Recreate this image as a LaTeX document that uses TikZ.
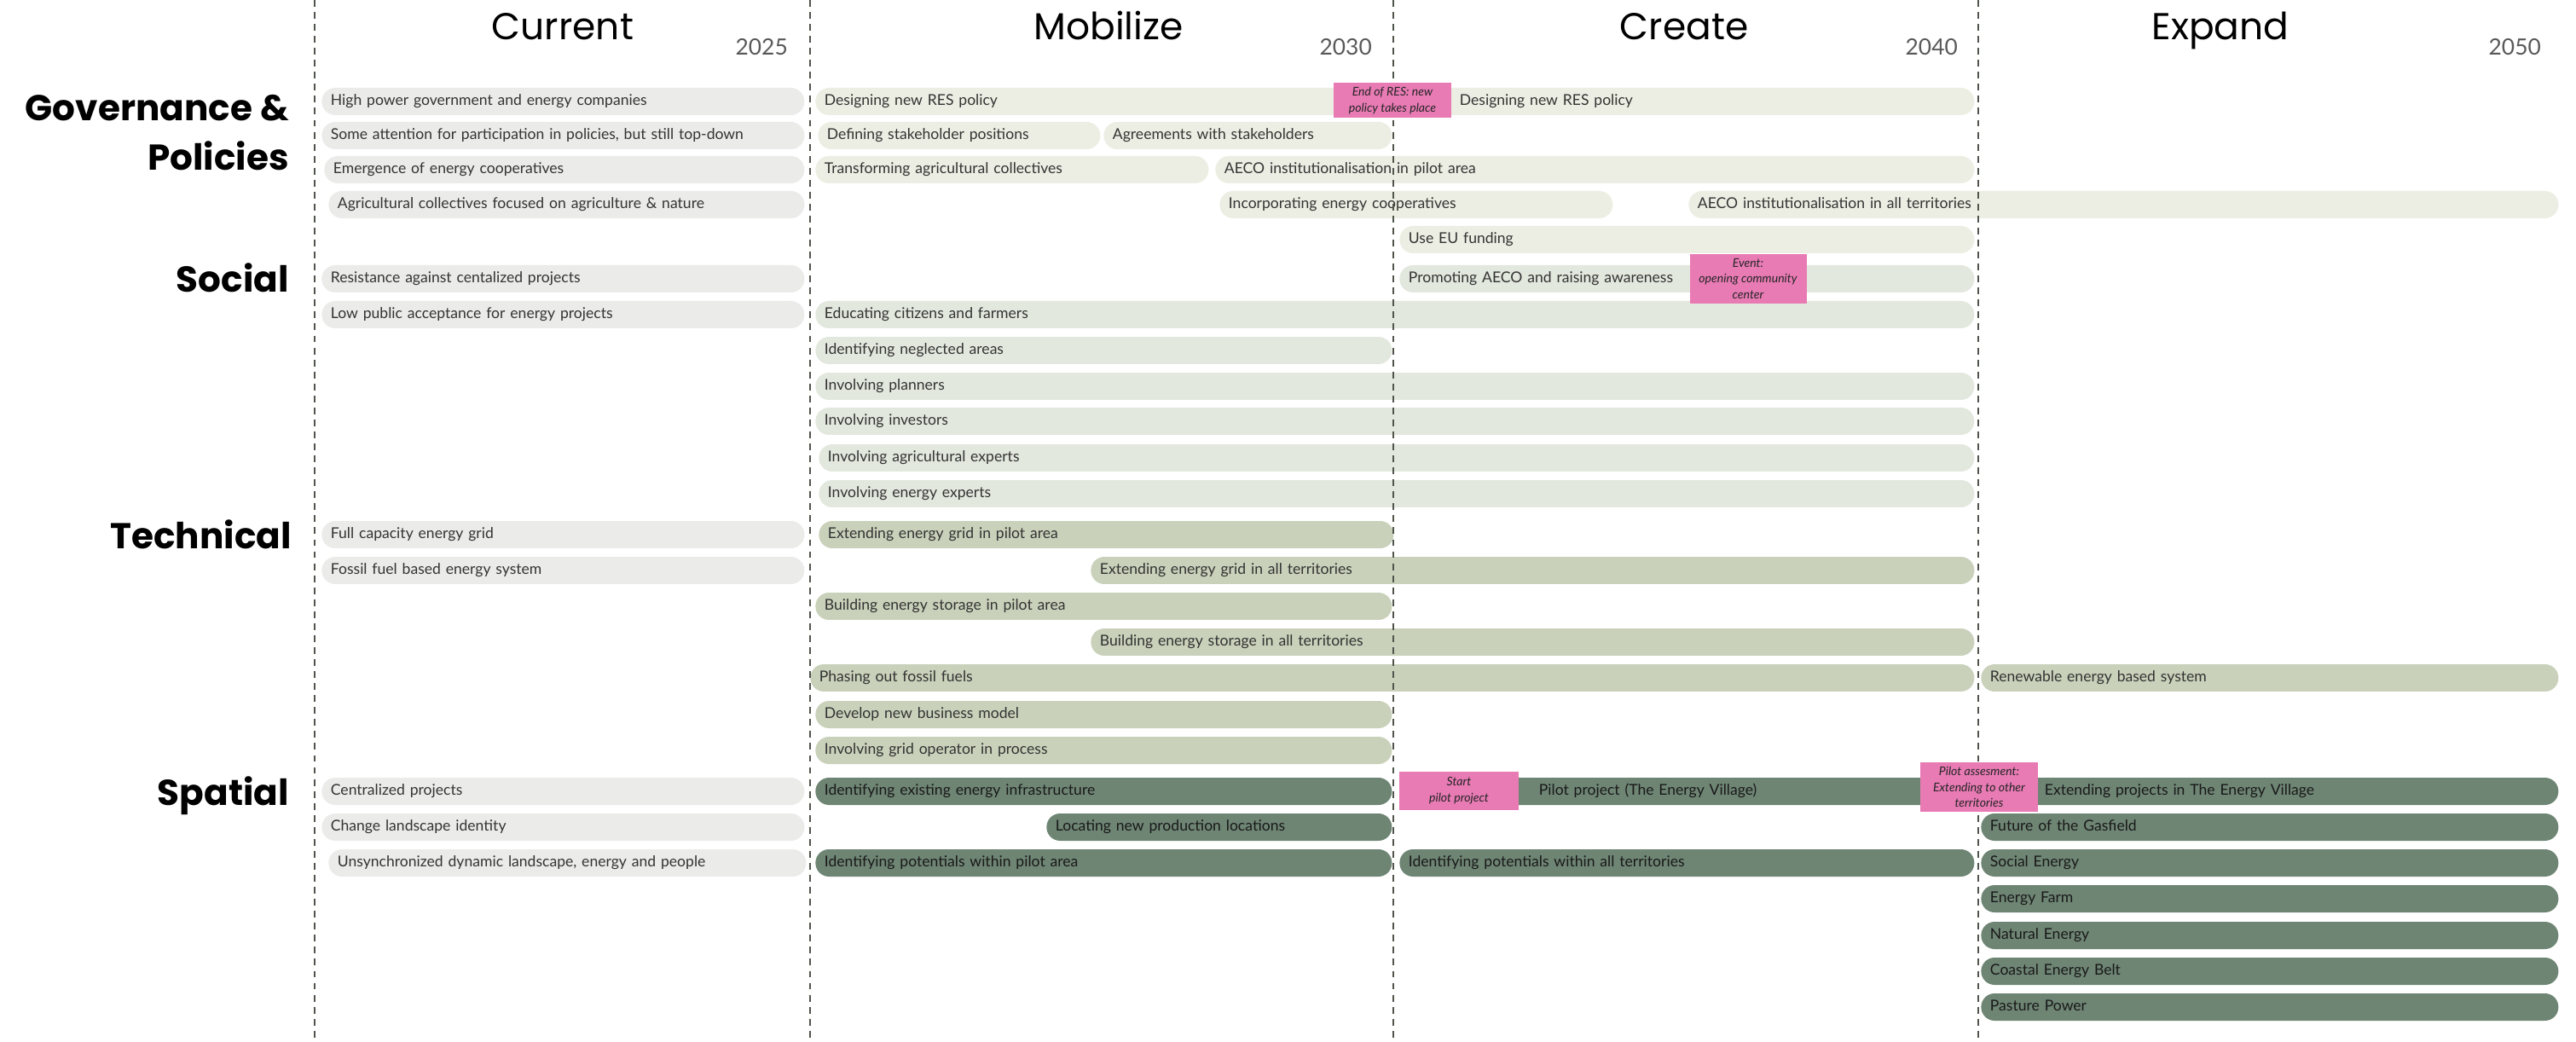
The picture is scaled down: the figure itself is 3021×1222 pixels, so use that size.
\documentclass[tikz,border=0pt]{standalone}
\usepackage{fontspec}
\setmainfont{Lato}
\newfontfamily\headfont{Poppins}

\definecolor{curgray}{HTML}{EBECEA}
\definecolor{govbeige}{HTML}{EDEEE3}
\definecolor{socsage}{HTML}{E3E8DE}
\definecolor{techsage}{HTML}{C9D1BA}
\definecolor{spatgreen}{HTML}{6E8574}
\definecolor{eventpink}{HTML}{E87AB4}
\definecolor{divgray}{HTML}{50554C}

\begin{document}
\begin{tikzpicture}[
  x=0.02cm, y=-0.02cm,
  bar/.style={rounded corners=9pt, inner xsep=6pt, inner ysep=0pt, minimum height=0.64cm, anchor=west, align=left, text height=7.5pt, text depth=2.2pt, text=black!80, font=\fontsize{10}{12}\selectfont},
  barw/.style={text width=#1*0.02cm-12pt},
  skipin/.style={execute at begin node={\hspace*{#1}}},
  cur/.style={bar, fill=curgray},
  gov/.style={bar, fill=govbeige},
  soc/.style={bar, fill=socsage},
  tech/.style={bar, fill=techsage},
  spat/.style={bar, fill=spatgreen, text=black!90},
  event/.style={fill=eventpink, inner sep=1pt, align=center, text=black!85, font=\itshape\fontsize{8}{10.5}\selectfont},
  phase/.style={anchor=base, font=\headfont\fontsize{25}{30}\selectfont},
  year/.style={anchor=base east, text=black!65, font=\fontsize{15}{18}\selectfont},
  cat/.style={anchor=base east, font=\headfont\bfseries\fontsize{24}{30}\selectfont},
  divider/.style={draw=divgray, line width=1.6pt, dash pattern=on 4.5pt off 3.5pt}
]
\useasboundingbox[fill=white] (0,0) rectangle (3021,1222);

%% ---------- phase headers ----------
\node[phase] (current)  at (660,47)  {Current};
\node[phase] (mobilize) at (1300,47) {Mobilize};
\node[phase] (create)   at (1975,47) {Create};
\node[phase] (expand)   at (2604,47) {Expand};

\node[year] (y2025) at (930,65)  {2025};
\node[year] (y2030) at (1615,65) {2030};
\node[year] (y2040) at (2302,65) {2040};
\node[year] (y2050) at (2986,65) {2050};

%% ---------- theme labels ----------
\node[cat] (govlab)  at (345,142) {Governance \&};
\node[cat] (pollab)  at (345,200) {Policies};
\node[cat] (soclab)  at (345,343) {Social};
\node[cat] (techlab) at (348,643) {Technical};
\node[cat] (spatlab) at (345,944) {Spatial};

%% ---------- current situation ----------
\node[cur, barw=566] (c1)  at (377,119)  {High power government and energy companies};
\node[cur, barw=566] (c2)  at (377,159)  {Some attention for participation in policies, but still top-down};
\node[cur, barw=563] (c3)  at (380,199)  {Emergence of energy cooperatives};
\node[cur, barw=558] (c4)  at (385,240)  {Agricultural collectives focused on agriculture \& nature};
\node[cur, barw=566] (c6)  at (377,327)  {Resistance against centalized projects};
\node[cur, barw=566] (c7)  at (377,369)  {Low public acceptance for energy projects};
\node[cur, barw=566] (c13) at (377,627)  {Full capacity energy grid};
\node[cur, barw=566] (c14) at (377,669)  {Fossil fuel based energy system};
\node[cur, barw=566] (c20) at (377,928)  {Centralized projects};
\node[cur, barw=566] (c21) at (377,970)  {Change landscape identity};
\node[cur, barw=560] (c22) at (385,1012) {Unsynchronized dynamic landscape, energy and people};

%% ---------- governance & policies ----------
\node[gov, barw=684] (g1a) at (956,119)  {Designing new RES policy};
\node[gov, barw=675, skipin=1.22cm] (g1b) at (1640,119) {Designing new RES policy};
\node[gov, barw=331] (g2a) at (959,159)  {Defining stakeholder positions};
\node[gov, barw=338] (g2b) at (1294,159) {Agreements with stakeholders};
\node[gov, barw=461] (g3a) at (956,199)  {Transforming agricultural collectives};
\node[gov, barw=890] (g3b) at (1425,199) {AECO institutionalisation in pilot area};
\node[gov, barw=461] (g4a) at (1430,240) {Incorporating energy cooperatives};
\node[gov, barw=1020] (g4b) at (1980,240) {AECO institutionalisation in all territories};
\node[gov, barw=674] (g5)  at (1641,281) {Use EU funding};

%% ---------- social ----------
\node[soc, barw=674]  (s6)  at (1641,327) {Promoting AECO and raising awareness};
\node[soc, barw=1359] (s7)  at (956,369)  {Educating citizens and farmers};
\node[soc, barw=676]  (s8)  at (956,411)  {Identifying neglected areas};
\node[soc, barw=1359] (s9)  at (956,453)  {Involving planners};
\node[soc, barw=1359] (s10) at (956,494)  {Involving investors};
\node[soc, barw=1355] (s11) at (960,537)  {Involving agricultural experts};
\node[soc, barw=1355] (s12) at (960,579)  {Involving energy experts};

%% ---------- technical ----------
\node[tech, barw=674]  (t13)  at (960,627)  {Extending energy grid in pilot area};
\node[tech, barw=1036] (t14)  at (1279,669) {Extending energy grid in all territories};
\node[tech, barw=676]  (t15)  at (956,711)  {Building energy storage in pilot area};
\node[tech, barw=1036] (t16)  at (1279,753) {Building energy storage in all territories};
\node[tech, barw=1365] (t17a) at (950,795)  {Phasing out fossil fuels};
\node[tech, barw=677]  (t17b) at (2323,795) {Renewable energy based system};
\node[tech, barw=676]  (t18)  at (956,838)  {Develop new business model};
\node[tech, barw=676]  (t19)  at (956,880)  {Involving grid operator in process};

%% ---------- spatial ----------
\node[spat, barw=676] (p20a) at (956,928)  {Identifying existing energy infrastructure};
\node[spat, barw=674, skipin=3.06cm] (p20b) at (1641,928) {Pilot project (The Energy Village)};
\node[spat, barw=677, skipin=1.28cm] (p20c) at (2323,928) {Extending projects in The Energy Village};
\node[spat, barw=405] (p21a) at (1227,970)  {Locating new production locations};
\node[spat, barw=677] (p21b) at (2323,970)  {Future of the Gasfield};
\node[spat, barw=676] (p22a) at (956,1012)  {Identifying potentials within pilot area};
\node[spat, barw=674] (p22b) at (1641,1012) {Identifying potentials within all territories};
\node[spat, barw=677] (p22c) at (2323,1012) {Social Energy};
\node[spat, barw=677] (p23)  at (2323,1054) {Energy Farm};
\node[spat, barw=677] (p24)  at (2323,1097) {Natural Energy};
\node[spat, barw=677] (p25)  at (2323,1139) {Coastal Energy Belt};
\node[spat, barw=677] (p26)  at (2323,1181) {Pasture Power};

%% ---------- period dividers ----------
\foreach \x in {369,950,1634,2320}
  \draw[divider] (\x,0) -- (\x,1222);

%% ---------- events ----------
\node[event, minimum width=2.76cm, minimum height=0.82cm] (e1) at (1633,118) {End of RES: new\\policy takes place};
\node[event, minimum width=2.74cm, minimum height=1.16cm] (e2) at (2050,327) {Event:\\opening community\\center};
\node[event, minimum width=2.8cm, minimum height=0.9cm]   (e3) at (1711,927) {Start\\pilot project};
\node[event, minimum width=2.76cm, minimum height=1.18cm] (e4) at (2321,923) {Pilot assesment:\\Extending to other\\territories};

\end{tikzpicture}
\end{document}
